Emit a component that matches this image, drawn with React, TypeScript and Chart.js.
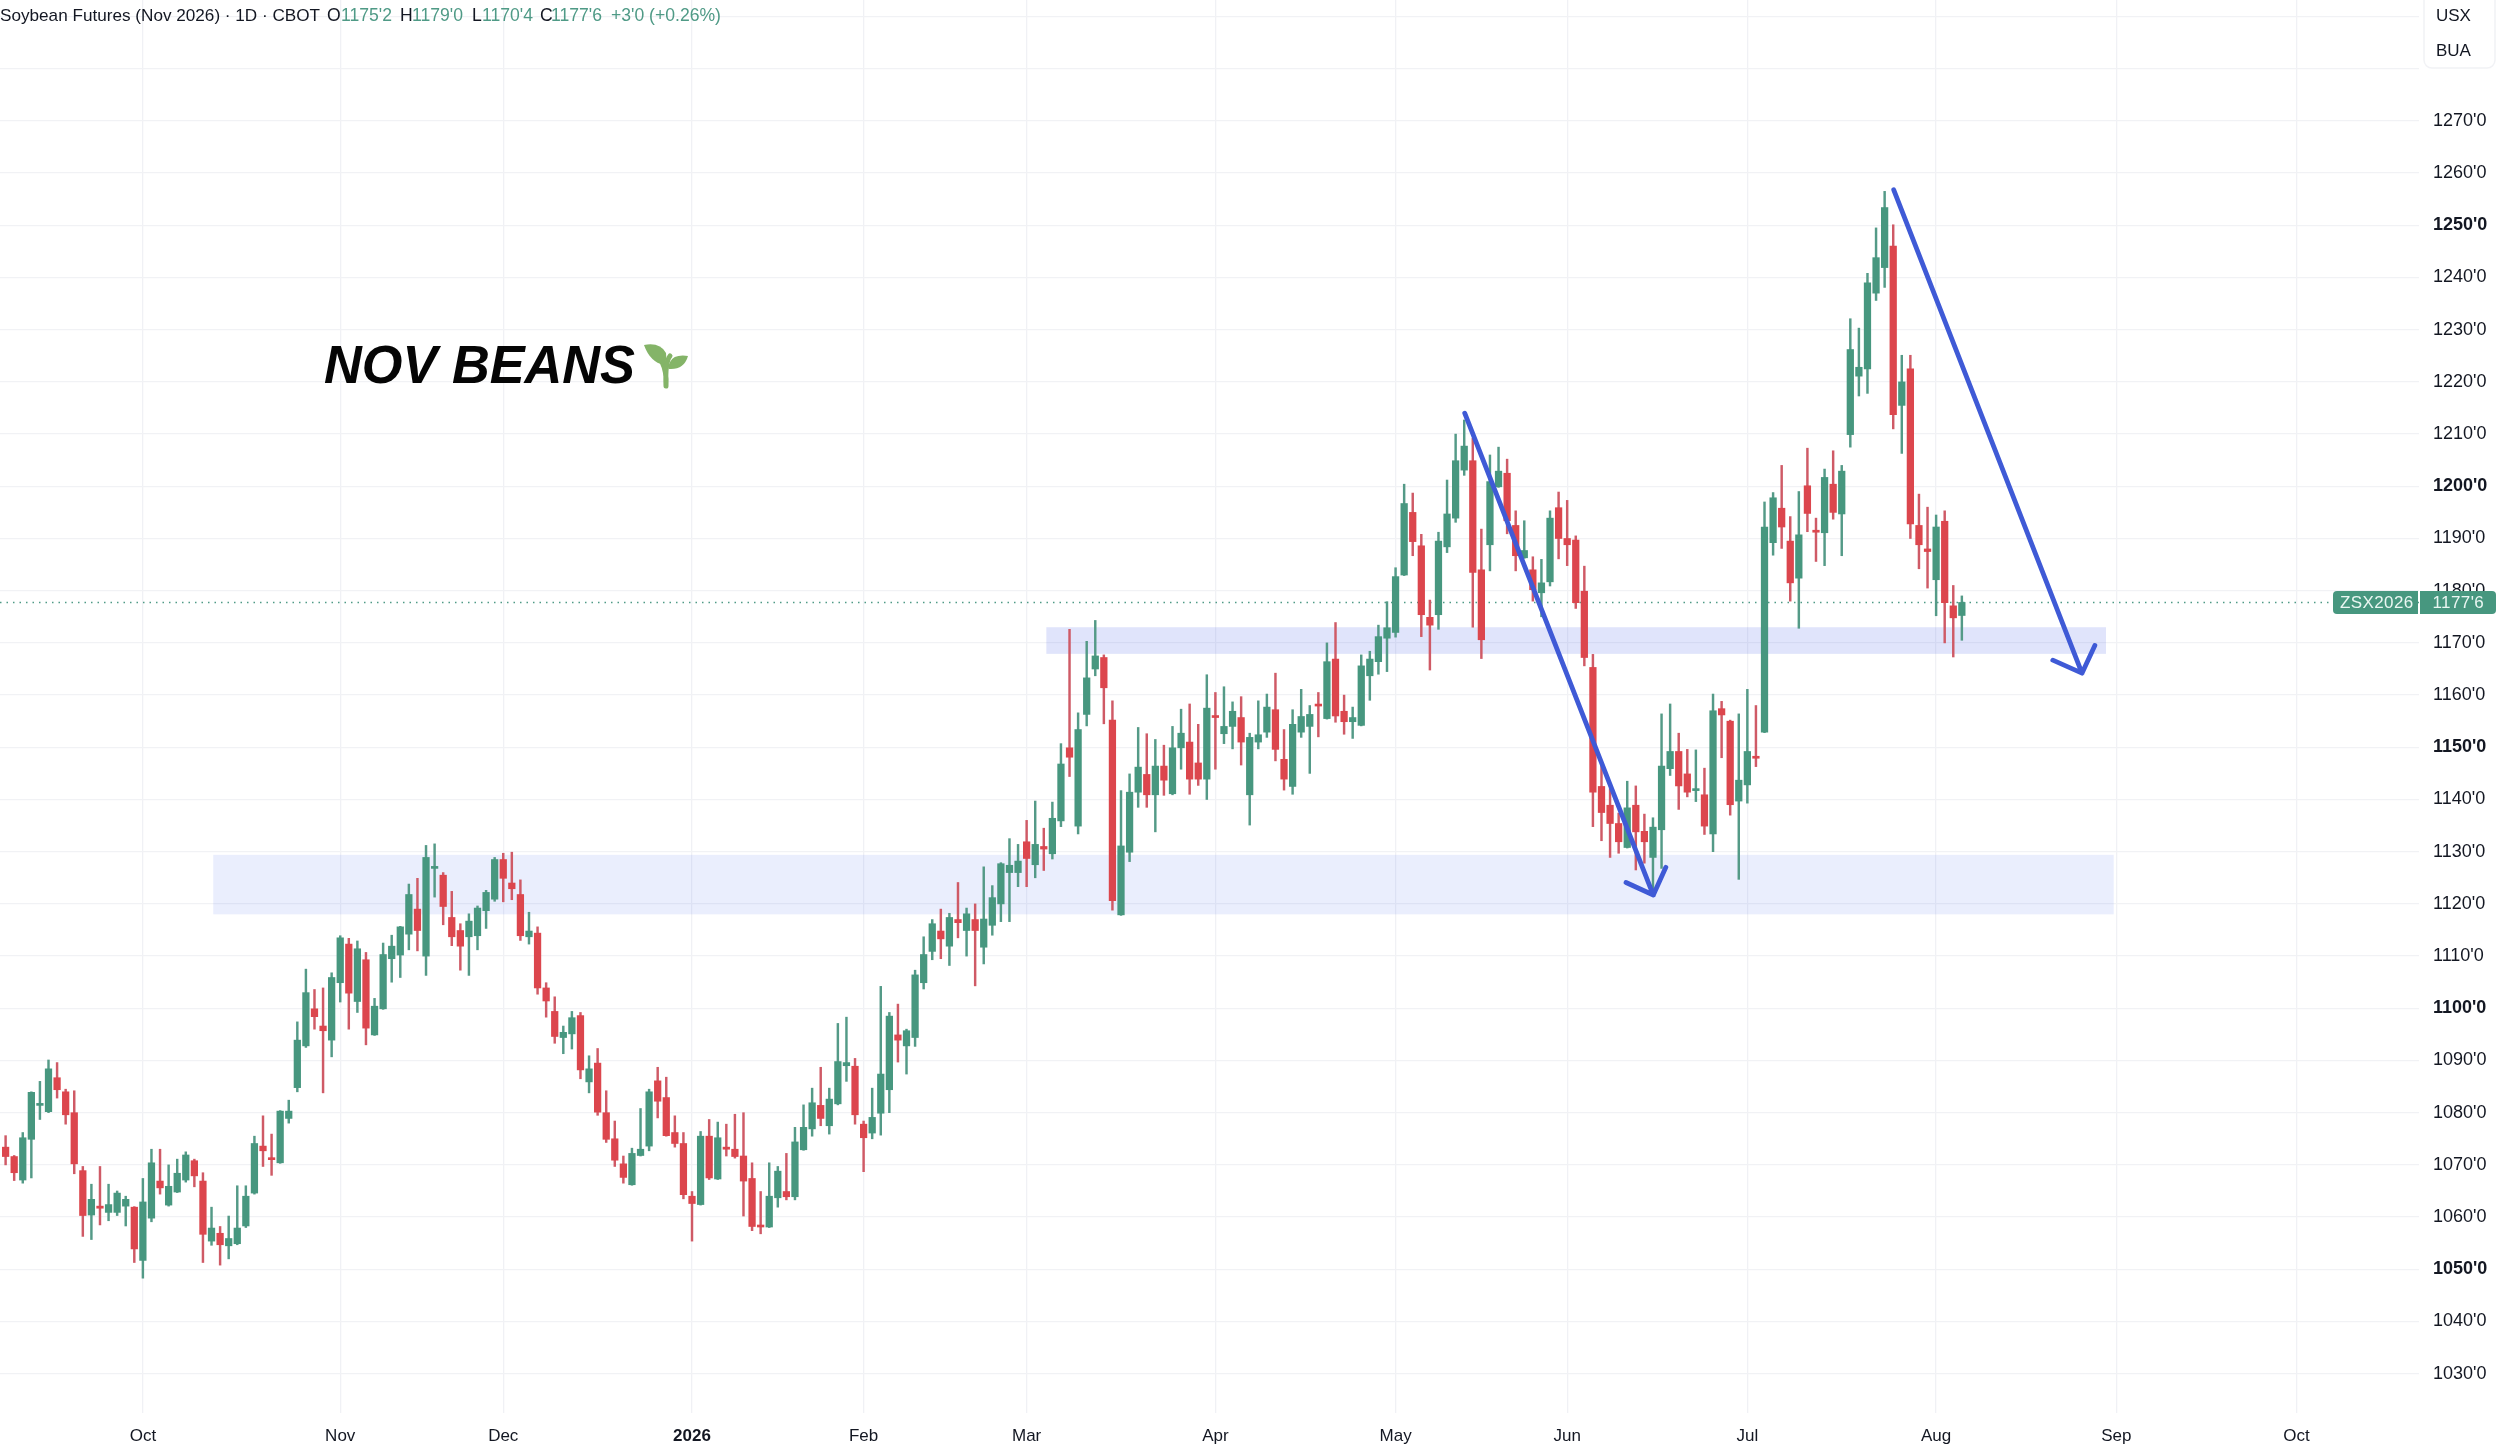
import React, { useEffect, useRef } from "react";
import { Chart, registerables } from "chart.js";

Chart.register(...registerables);

const opens = [
  1073.4,1071.6,1067.1,1074.9,1081.4,1080.2,1086.7,1084.0,1080.0,1068.9,
  1060.4,1062.1,1060.9,1060.9,1062.1,1061.9,1051.7,1059.8,1066.9,1062.3,
  1064.8,1067.1,1070.8,1066.9,1055.4,1056.9,1054.5,1054.9,1058.3,1064.6,
  1073.6,1071.2,1070.4,1078.9,1084.8,1092.8,1099.9,1096.6,1093.9,1104.9,
  1112.3,1101.3,1109.3,1094.9,1099.9,1109.5,1110.2,1114.2,1119.0,1110.0,
  1126.8,1125.5,1117.4,1114.9,1113.7,1113.9,1118.7,1120.9,1128.5,1124.0,
  1121.8,1113.7,1114.4,1103.9,1099.4,1094.4,1095.1,1098.6,1085.9,1089.5,
  1080.0,1075.0,1070.2,1066.2,1071.8,1073.6,1086.1,1082.9,1076.2,1074.1,
  1064.0,1062.4,1075.5,1067.3,1073.4,1073.0,1071.7,1067.4,1058.3,1058.1,
  1063.7,1064.9,1063.9,1072.9,1076.9,1081.4,1077.5,1081.7,1089.0,1088.9,
  1077.8,1076.1,1079.9,1084.4,1094.9,1092.8,1094.4,1104.9,1110.9,1114.8,
  1111.9,1117.0,1114.9,1117.0,1111.7,1115.9,1120.0,1126.0,1126.0,1131.9,
  1127.5,1131.0,1129.6,1135.9,1149.9,1134.9,1156.3,1165.0,1167.2,1155.2,
  1117.9,1129.9,1141.4,1144.8,1140.9,1146.4,1141.1,1149.9,1151.0,1147.0,
  1143.9,1155.9,1152.6,1154.0,1155.7,1140.9,1151.0,1152.9,1157.2,1147.7,
  1142.5,1152.9,1154.0,1158.1,1155.5,1166.9,1156.9,1154.9,1154.2,1163.7,
  1166.4,1170.9,1172.0,1183.0,1195.0,1188.6,1174.9,1175.4,1188.4,1193.9,
  1203.1,1204.9,1184.0,1188.8,1199.9,1202.5,1192.5,1186.3,1184.0,1179.6,
  1181.7,1195.9,1190.0,1189.7,1179.9,1165.3,1142.5,1138.9,1135.4,1130.8,
  1138.9,1133.9,1128.9,1134.2,1145.9,1149.2,1144.9,1141.7,1140.9,1133.4,
  1157.4,1155.0,1139.7,1142.8,1148.1,1152.9,1189.2,1195.8,1189.5,1182.4,
  1200.1,1191.4,1191.1,1200.4,1194.7,1209.9,1221.1,1222.5,1237.0,1241.9,
  1246.0,1215.5,1222.5,1192.5,1188.0,1182.1,1193.3,1177.1,1175.25,
];
const highs = [
  1075.6,1071.8,1076.2,1084.0,1086.0,1090.1,1089.6,1084.5,1084.2,1069.7,
  1066.3,1069.7,1066.3,1065.0,1064.0,1062.0,1067.4,1073.0,1073.0,1070.0,
  1071.1,1072.5,1071.1,1068.5,1061.9,1058.2,1060.2,1066.0,1066.0,1075.5,
  1079.4,1075.9,1080.4,1082.4,1097.4,1107.5,1103.6,1103.9,1106.8,1113.9,
  1113.4,1112.9,1110.7,1101.9,1112.5,1114.0,1115.7,1123.8,1124.9,1131.2,
  1131.5,1126.0,1122.4,1116.2,1118.1,1119.6,1122.6,1128.9,1129.7,1129.9,
  1124.6,1118.4,1115.6,1104.9,1102.2,1096.6,1099.4,1099.2,1090.9,1092.3,
  1084.2,1078.4,1071.7,1073.2,1080.8,1084.5,1088.7,1086.8,1079.4,1076.2,
  1064.9,1076.4,1078.7,1078.2,1077.8,1079.7,1080.0,1070.4,1064.9,1070.4,
  1069.7,1072.2,1077.2,1081.5,1084.7,1088.7,1084.7,1097.1,1098.3,1090.4,
  1078.4,1084.7,1104.2,1099.2,1100.8,1096.0,1107.3,1113.7,1117.0,1119.0,
  1118.2,1124.1,1119.2,1120.0,1127.1,1123.5,1127.9,1132.5,1131.4,1136.0,
  1139.7,1134.5,1139.5,1150.7,1172.6,1156.6,1170.3,1174.3,1167.7,1158.9,
  1141.7,1144.9,1153.8,1152.6,1151.5,1150.4,1154.0,1157.3,1158.3,1154.4,
  1163.9,1160.5,1161.6,1158.7,1159.7,1152.7,1158.9,1160.2,1164.2,1153.4,
  1157.2,1161.1,1158.0,1160.5,1170.0,1173.9,1160.0,1157.7,1167.7,1168.4,
  1173.4,1177.9,1184.4,1200.4,1198.7,1190.8,1178.2,1191.2,1201.2,1210.0,
  1212.7,1209.2,1191.8,1206.0,1207.5,1205.2,1195.3,1193.4,1186.5,1186.0,
  1195.3,1198.9,1197.3,1190.5,1184.7,1167.8,1146.9,1142.1,1137.4,1143.5,
  1142.6,1137.2,1136.5,1156.4,1158.3,1152.7,1149.6,1149.5,1146.0,1160.2,
  1158.8,1155.2,1156.4,1161.1,1158.0,1197.0,1198.8,1204.0,1194.2,1199.0,
  1207.3,1193.9,1203.3,1206.8,1204.0,1232.1,1230.3,1240.8,1249.5,1256.5,
  1250.1,1225.1,1225.1,1198.5,1196.0,1194.5,1195.3,1181.0,1179.0,
];
const lows = [
  1070.0,1067.0,1066.5,1067.5,1078.7,1080.0,1082.8,1077.8,1068.3,1056.3,
  1055.7,1058.5,1059.3,1060.3,1058.3,1051.3,1048.3,1059.1,1064.4,1062.1,
  1064.7,1066.7,1065.8,1051.3,1054.6,1050.8,1052.0,1054.7,1058.0,1064.4,
  1069.7,1068.0,1070.3,1078.0,1084.0,1092.5,1096.0,1083.8,1090.7,1101.2,
  1096.0,1099.2,1093.0,1094.8,1099.8,1105.0,1105.9,1111.2,1111.0,1106.3,
  1121.3,1116.0,1112.0,1107.3,1106.3,1111.2,1115.3,1120.5,1120.4,1120.8,
  1113.0,1112.3,1102.7,1098.3,1093.3,1091.3,1092.2,1086.5,1083.8,1079.5,
  1074.3,1069.7,1066.5,1066.1,1071.7,1072.7,1079.0,1075.5,1073.4,1063.5,
  1055.4,1062.3,1067.2,1067.2,1071.7,1071.3,1060.2,1057.4,1056.8,1058.0,
  1061.9,1063.3,1063.3,1072.8,1075.5,1077.5,1075.9,1081.5,1086.0,1077.8,
  1068.7,1075.0,1075.7,1080.0,1089.7,1087.4,1092.7,1103.7,1109.3,1109.5,
  1108.2,1113.5,1110.0,1104.3,1108.5,1114.0,1116.6,1116.6,1123.3,1123.3,
  1125.0,1126.4,1128.6,1134.8,1144.4,1133.4,1154.1,1163.7,1154.5,1118.8,
  1117.8,1128.1,1138.5,1138.5,1133.8,1140.8,1140.9,1145.8,1141.0,1142.7,
  1140.0,1145.8,1150.7,1149.7,1146.6,1135.1,1149.7,1151.9,1147.4,1141.8,
  1141.0,1151.9,1145.0,1152.0,1155.4,1154.8,1152.5,1151.7,1154.1,1159.0,
  1164.0,1164.5,1171.1,1182.9,1186.7,1171.2,1164.8,1172.6,1187.3,1193.1,
  1202.1,1173.0,1167.0,1183.8,1199.8,1190.9,1183.8,1186.2,1178.0,1175.0,
  1180.9,1186.1,1184.8,1176.6,1165.6,1134.8,1132.1,1128.9,1129.7,1130.7,
  1126.5,1127.8,1121.7,1126.8,1144.6,1138.1,1140.5,1139.6,1133.3,1130.0,
  1148.0,1137.0,1124.7,1139.3,1146.3,1152.8,1186.8,1188.1,1178.0,1172.8,
  1191.3,1185.6,1184.8,1193.7,1186.7,1207.5,1217.3,1217.8,1235.6,1238.1,
  1211.0,1206.3,1190.0,1184.2,1180.5,1175.2,1170.0,1167.3,1170.5,
];
const closes = [
  1071.6,1068.5,1075.2,1083.9,1081.6,1088.4,1084.4,1079.6,1070.2,1060.3,
  1063.4,1061.7,1062.4,1064.6,1063.4,1053.9,1062.9,1070.4,1065.6,1065.9,
  1068.4,1071.9,1067.9,1056.7,1057.9,1054.7,1055.9,1057.9,1064.0,1074.1,
  1072.7,1071.0,1080.3,1080.3,1093.9,1103.0,1098.4,1095.7,1105.9,1113.5,
  1102.9,1111.4,1096.2,1100.4,1110.3,1111.9,1115.6,1121.8,1114.9,1128.9,
  1127.0,1119.5,1113.7,1111.9,1116.7,1119.2,1122.2,1128.5,1124.9,1122.9,
  1113.9,1114.8,1103.9,1101.4,1094.6,1095.4,1098.2,1088.2,1088.4,1080.1,
  1074.9,1070.9,1067.6,1072.2,1073.0,1084.0,1082.2,1075.6,1074.1,1064.3,
  1062.6,1075.5,1067.5,1075.2,1073.0,1071.6,1066.9,1058.2,1058.1,1064.0,
  1068.8,1063.9,1074.4,1077.2,1081.9,1078.9,1082.6,1089.8,1089.6,1079.6,
  1075.2,1079.1,1087.4,1098.5,1093.9,1095.7,1106.4,1110.3,1116.2,1113.3,
  1117.4,1116.4,1118.1,1114.9,1117.1,1121.2,1127.7,1127.4,1128.2,1128.7,
  1131.4,1130.5,1136.4,1146.8,1148.1,1153.4,1163.3,1167.5,1161.4,1120.6,
  1131.1,1141.4,1146.2,1140.9,1146.4,1143.7,1149.9,1152.7,1143.9,1143.9,
  1157.5,1155.7,1154.0,1156.9,1151.0,1151.9,1152.4,1157.7,1149.6,1143.9,
  1154.4,1155.9,1156.3,1157.9,1166.4,1156.0,1154.9,1155.7,1165.6,1166.9,
  1171.2,1172.9,1182.7,1196.7,1189.4,1175.4,1173.4,1189.5,1194.7,1204.9,
  1207.7,1183.5,1170.6,1200.9,1202.9,1193.4,1186.7,1187.7,1180.2,1181.5,
  1193.9,1190.0,1188.8,1177.7,1167.2,1141.4,1137.5,1135.4,1131.9,1138.4,
  1133.8,1131.9,1134.7,1146.4,1149.2,1142.6,1141.4,1141.9,1134.9,1157.0,
  1156.2,1139.0,1143.7,1149.2,1147.9,1192.2,1197.8,1192.2,1181.5,1190.7,
  1194.8,1191.2,1201.7,1195.0,1202.9,1226.2,1222.8,1239.0,1243.8,1253.4,
  1213.7,1220.0,1192.8,1188.8,1187.5,1192.2,1177.7,1174.8,1177.75,
];

const monthLabels = ["Oct","Nov","Dec","2026","Feb","Mar","Apr","May","Jun","Jul","Aug","Sep","Oct"];
const monthBars = [16,39,58,80,100,119,141,162,182,203,225,246,267];
const priceTicks = [1030,1040,1050,1060,1070,1080,1090,1100,1110,1120,1130,1140,1150,1160,1170,1180,1190,1200,1210,1220,1230,1240,1250,1260,1270,1280,1290];

// support zones: first bar, last bar, low price, high price
const zoneLower = [24.2, 245.7, 1118.0, 1129.4];
const zoneUpper = [121.3, 244.8, 1167.9, 1173.0];

// hand-drawn arrows, in bars and prices
const arrowOneBars = [170.06, 192.04, 188.86, 192.04, 193.5];
const arrowOnePrices = [1214.0, 1121.7, 1124.1, 1121.7, 1127.0];
const arrowTwoBars = [220.06, 242.0, 238.6, 242.0, 243.5];
const arrowTwoPrices = [1256.8, 1164.2, 1166.7, 1164.2, 1169.5];

const headerTexts = ["Soybean Futures (Nov 2026) · 1D · CBOT", "O", "1175'2", "H", "1179'0", "L", "1170'4", "C", "1177'6", "+3'0 (+0.26%)"];

const GREEN = "#47977f";
const RED = "#dc464d";
const GREEN_WICK = "#549a87";
const RED_WICK = "#cf5a66";
const INK = "#131722";
const VALUE = "#4f9a86";
const FONT = '"Liberation Sans", Arial, sans-serif';
const xMin = -0.653;
const xMax = 281.28;
const yMin = 1022.47;
const yMax = 1293.16;
const headerX = [0, 327, 341, 400, 412, 472, 482, 540, 551, 611];
const headerColour = [INK, INK, VALUE, INK, VALUE, INK, VALUE, INK, VALUE, VALUE];

const overlays = {
  id: "overlays",
  beforeDatasetsDraw(chart: any) {
    const { ctx, scales } = chart;
    const drawZone = (z: number[], color: string) => {
      const x0 = scales.x.getPixelForValue(z[0]);
      const x1 = scales.x.getPixelForValue(z[1]);
      const y0 = scales.y.getPixelForValue(z[3]);
      const y1 = scales.y.getPixelForValue(z[2]);
      ctx.save();
      ctx.fillStyle = color;
      ctx.fillRect(x0, y0, x1 - x0, y1 - y0);
      ctx.restore();
    };
    drawZone(zoneLower, "rgba(60,95,235,0.105)");
    drawZone(zoneUpper, "rgba(60,85,230,0.16)");
  },
  afterDraw(chart: any) {
    const { ctx, scales } = chart;
    ctx.save();
    ctx.textBaseline = "middle";
    ctx.textAlign = "left";

    headerTexts.forEach((t, i) => {
      ctx.font = `${i === 0 ? 17.15 : 17.6}px ${FONT}`;
      ctx.fillStyle = headerColour[i];
      ctx.fillText(t, headerX[i], 16);
    });

    // currency / unit box
    ctx.fillStyle = "#ffffff";
    ctx.strokeStyle = "#f1f2f5";
    ctx.lineWidth = 1.5;
    ctx.beginPath();
    ctx.roundRect(2424, -8, 71, 76, 8);
    ctx.fill();
    ctx.stroke();
    ctx.fillStyle = INK;
    ctx.font = `17px ${FONT}`;
    ctx.fillText("USX", 2436, 16);
    ctx.fillText("BUA", 2436, 51.5);

    // last price tag
    const lastY = scales.y.getPixelForValue(closes[closes.length - 1]);
    ctx.fillStyle = GREEN;
    ctx.beginPath();
    ctx.roundRect(2333, lastY - 11.5, 85, 23, [4, 0, 0, 4]);
    ctx.fill();
    ctx.beginPath();
    ctx.roundRect(2420, lastY - 11.5, 76, 23, [0, 4, 4, 0]);
    ctx.fill();
    ctx.fillStyle = "#eaf6f2";
    ctx.font = `17px ${FONT}`;
    (ctx as any).letterSpacing = "0.4px";
    ctx.fillText("ZSX2026", 2340, lastY + 1);
    ctx.fillText("1177'6", 2432.5, lastY + 1);
    (ctx as any).letterSpacing = "0px";

    // title
    ctx.fillStyle = "#050505";
    ctx.font = `italic bold 54.5px ${FONT}`;
    ctx.fillText("NOV BEANS", 324, 368, 311);

    // sprout
    ctx.fillStyle = "#84b468";
    ctx.strokeStyle = "#84b468";
    ctx.lineWidth = 5;
    ctx.lineCap = "round";
    ctx.beginPath();
    ctx.moveTo(666, 386);
    ctx.quadraticCurveTo(665, 362, 670, 356);
    ctx.moveTo(666, 386);
    ctx.quadraticCurveTo(667, 372, 662, 362);
    ctx.stroke();
    ctx.beginPath();
    ctx.moveTo(644, 345);
    ctx.quadraticCurveTo(660, 342, 666, 353);
    ctx.quadraticCurveTo(667, 361, 664, 365);
    ctx.quadraticCurveTo(650, 362, 644, 345);
    ctx.fill();
    ctx.beginPath();
    ctx.moveTo(688, 356);
    ctx.quadraticCurveTo(674, 354, 670, 362);
    ctx.quadraticCurveTo(667, 368, 669, 369);
    ctx.quadraticCurveTo(684, 370, 688, 356);
    ctx.fill();
    ctx.restore();
  },
};

const noPadding = (s: any) => {
  s.paddingTop = 0;
  s.paddingBottom = 0;
  s.paddingLeft = 0;
  s.paddingRight = 0;
};

export default function App() {
  const ref = useRef<HTMLCanvasElement>(null);
  useEffect(() => {
    if (!ref.current) return;
    const colour = (i: number) => (closes[i] >= opens[i] ? GREEN : RED);
    const wickColour = (i: number) => (closes[i] >= opens[i] ? GREEN_WICK : RED_WICK);
    const arrowLine = (bars: number[], prices: number[]) => ({
      type: "line",
      data: bars.map((x, i) => ({ x, y: prices[i] })),
      borderColor: "#3f5ad6",
      borderWidth: 4.8,
      borderCapStyle: "round",
      borderJoinStyle: "round",
      pointRadius: 0,
      tension: 0,
      order: 1,
    });
    const chart = new Chart(ref.current, {
      type: "bar",
      data: {
        datasets: [
          {
            type: "line",
            data: [
              { x: xMin, y: closes[closes.length - 1] },
              { x: xMax, y: closes[closes.length - 1] },
            ],
            borderColor: "#4f9a86",
            borderWidth: 1.5,
            borderDash: [1.5, 5],
            pointRadius: 0,
            order: 5,
          },
          {
            data: lows.map((l, i) => ({ x: i, y: [l, highs[i]] })),
            backgroundColor: lows.map((_, i) => wickColour(i)),
            barThickness: 1.8,
            grouped: false,
            order: 4,
          },
          {
            data: opens.map((o, i) => ({ x: i, y: [o, closes[i]] })),
            backgroundColor: opens.map((_, i) => colour(i)),
            barThickness: 6.6,
            minBarLength: 2,
            grouped: false,
            order: 3,
          },
          arrowLine(arrowOneBars, arrowOnePrices),
          arrowLine(arrowTwoBars, arrowTwoPrices),
        ] as any,
      },
      options: {
        responsive: false,
        animation: false,
        devicePixelRatio: 1,
        layout: { padding: 0 },
        plugins: { legend: { display: false }, tooltip: { enabled: false }, title: { display: false } },
        events: [],
        scales: {
          x: {
            type: "linear",
            min: xMin,
            max: xMax,
            offset: false,
            grid: { color: "#f0f1f5", lineWidth: 1.3, offset: false, drawTicks: false },
            border: { display: false },
            afterBuildTicks: (s: any) => {
              s.ticks = monthBars.map((value) => ({ value }));
            },
            afterFit: (s: any) => {
              s.height = 38;
              noPadding(s);
            },
            ticks: {
              autoSkip: false,
              maxRotation: 0,
              padding: 13,
              color: INK,
              font: (c: any) => ({ family: FONT, size: 17, weight: c.tick && c.tick.value === 80 ? "bold" : "normal" }),
              callback: (v: any) => monthLabels[monthBars.indexOf(v)] ?? "",
            },
          },
          y: {
            type: "linear",
            position: "right",
            min: yMin,
            max: yMax,
            grid: { color: "#f1f2f5", lineWidth: 1.3, drawTicks: false },
            border: { display: false },
            afterBuildTicks: (s: any) => {
              s.ticks = priceTicks.map((value) => ({ value }));
            },
            afterFit: (s: any) => {
              s.width = 81;
              noPadding(s);
            },
            ticks: {
              autoSkip: false,
              padding: 14,
              color: INK,
              font: (c: any) => ({ family: FONT, size: 18, weight: c.tick && c.tick.value % 50 === 0 ? "bold" : "normal" }),
              callback: (v: any) => (v > 1270 ? "" : `${v}'0`),
            },
          },
        },
      } as any,
      plugins: [overlays],
    } as any);
    return () => chart.destroy();
  }, []);
  return (
    <canvas
      ref={ref}
      width={2500}
      height={1451}
      style={{ position: "absolute", left: 0, top: 0, display: "block", width: 2500, height: 1451 }}
    />
  );
}
